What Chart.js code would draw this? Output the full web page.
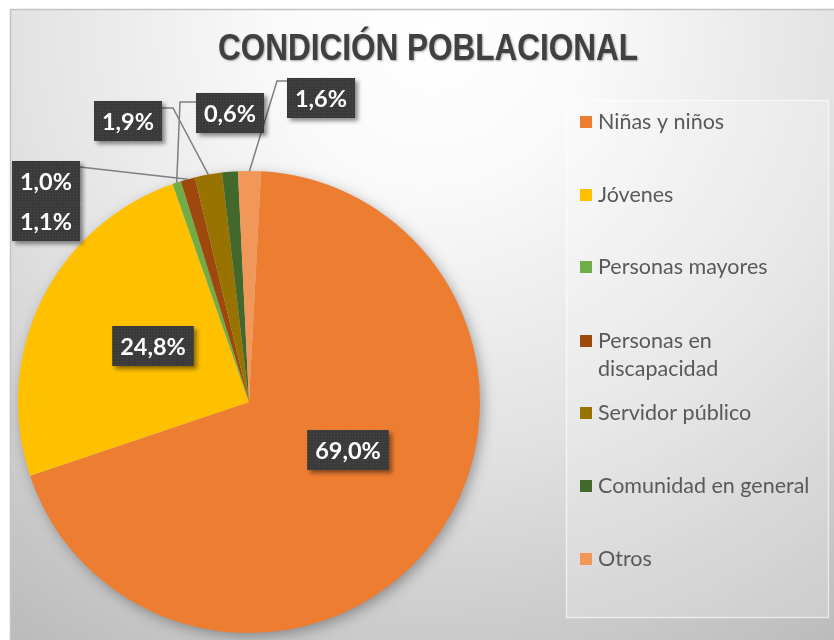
<!DOCTYPE html>
<html><head><meta charset="utf-8">
<script src="https://cdn.jsdelivr.net/npm/chart.js@4"></script>
<style>html,body{margin:0;padding:0;background:#fff;}#wrap{width:834px;height:640px;position:relative;}</style>
</head><body><div id="wrap"><canvas id="c" width="834" height="640"></canvas></div>
<script>
const chartTitle = 'CONDICIÓN POBLACIONAL';
const categories = ['Niñas y niños','Jóvenes','Personas mayores','Personas en discapacidad','Servidor público','Comunidad en general','Otros'];
const legendLines = [['Niñas y niños'],['Jóvenes'],['Personas mayores'],['Personas en','discapacidad'],['Servidor público'],['Comunidad en general'],['Otros']];
const values = [69.0, 24.8, 0.6, 1.0, 1.9, 1.1, 1.6];
const sliceColors = ['#ED7D31','#FFC000','#70AD47','#9E480E','#997300','#43682B','#F1975A'];

// label placement (annotation layout, not data)
const labelLayout = [
  {x:348, y:450, leader:null},
  {x:153, y:346, leader:null},
  {x:230, y:113, leader:[[196,102],[180,102]]},
  {x:46,  y:181, leader:[[80,167]]},
  {x:128, y:121, leader:[[162,108],[173,108]]},
  {x:46,  y:221, leader:null},
  {x:321, y:98,  leader:[[287,81],[277,81]]}
];
const legendItemY = [122,195,267,341,413,486,559];

function fmt(v){ return v.toFixed(1).replace('.', ',') + '%'; }

const bgPlugin = {
  id:'bg',
  beforeDraw(chart){
    const c = chart.ctx;
    c.save();
    c.fillStyle = '#ffffff';
    c.fillRect(0,0,chart.width,chart.height);
    const g = c.createRadialGradient(430,30,0,430,30,760);
    g.addColorStop(0,'#ffffff');
    g.addColorStop(0.2,'#fafafa');
    g.addColorStop(0.55,'#e2e2e2');
    g.addColorStop(1,'#b8b8b8');
    c.fillStyle = g;
    c.fillRect(10,9,824,631);
    c.strokeStyle = '#c4c4c4';
    c.lineWidth = 1.5;
    c.beginPath(); c.moveTo(10.5,640); c.lineTo(10.5,9.5); c.lineTo(834,9.5); c.stroke();
    // title
    c.font = 'bold 36px "Liberation Sans Narrow", "Liberation Sans", Arial, sans-serif';
    c.textAlign = 'center'; c.textBaseline = 'middle';
    const w = c.measureText(chartTitle).width;
    const target = 420;
    c.translate(428, 50);
    c.scale(target / w, 1);
    c.shadowColor = 'rgba(0,0,0,0.35)'; c.shadowBlur = 2; c.shadowOffsetX = 1; c.shadowOffsetY = 1;
    c.fillStyle = '#404040';
    c.fillText(chartTitle, 0, 0);
    c.restore();
    // legend
    c.save();
    c.fillStyle = 'rgba(255,255,255,0.22)';
    c.fillRect(566,100,263,518);
    c.strokeStyle = 'rgba(255,255,255,0.55)';
    c.lineWidth = 1.5;
    c.strokeRect(566.5,100.5,262,517);
    c.font = '21.5px Lato, "Open Sans", sans-serif';
    c.textAlign = 'left'; c.textBaseline = 'middle';
    legendLines.forEach((lines, i) => {
      const y = legendItemY[i];
      c.fillStyle = sliceColors[i];
      c.fillRect(580, y - 6, 12, 12);
      c.fillStyle = '#595959';
      lines.forEach((t, k) => c.fillText(t, 598, y + k * 28));
    });
    c.restore();
  }
};

const pieShadow = {
  id:'pieShadow',
  beforeDatasetsDraw(chart){
    const a = chart.getDatasetMeta(0).data[0];
    if(!a) return;
    const c = chart.ctx;
    c.save();
    c.shadowColor = 'rgba(0,0,0,0.35)';
    c.shadowBlur = 14; c.shadowOffsetX = 3; c.shadowOffsetY = 4;
    c.fillStyle = '#cccccc';
    c.beginPath(); c.arc(a.x, a.y, a.outerRadius - 1, 0, Math.PI*2); c.fill();
    c.restore();
  }
};

function boxPattern(c){
  const p = document.createElement('canvas'); p.width = 3; p.height = 3;
  const g = p.getContext('2d');
  g.fillStyle = '#3a3a3a'; g.fillRect(0,0,3,3);
  g.fillStyle = '#4b4b4b'; g.fillRect(1,1,1,1);
  return c.createPattern(p,'repeat');
}

const labelsPlugin = {
  id:'sliceLabels',
  afterDatasetsDraw(chart){
    const c = chart.ctx;
    const meta = chart.getDatasetMeta(0);
    c.save();
    c.strokeStyle = '#7f7f7f'; c.lineWidth = 1.5;
    meta.data.forEach((arc, i) => {
      const L = labelLayout[i];
      if(!L.leader) return;
      const mid = (arc.startAngle + arc.endAngle) / 2;
      const tx = arc.x + Math.cos(mid) * arc.outerRadius;
      const ty = arc.y + Math.sin(mid) * arc.outerRadius;
      c.beginPath();
      c.moveTo(L.leader[0][0], L.leader[0][1]);
      for(let k=1;k<L.leader.length;k++) c.lineTo(L.leader[k][0], L.leader[k][1]);
      c.lineTo(tx, ty);
      c.stroke();
    });
    const pat = boxPattern(c);
    c.font = 'bold 23.5px Lato, "Open Sans", sans-serif';
    c.textAlign = 'center'; c.textBaseline = 'middle';
    meta.data.forEach((arc, i) => {
      const L = labelLayout[i];
      const txt = fmt(values[i]);
      const w = c.measureText(txt).width + 16;
      const h = 40;
      c.save();
      c.shadowColor = 'rgba(0,0,0,0.45)'; c.shadowBlur = 4; c.shadowOffsetX = 3; c.shadowOffsetY = 3;
      c.fillStyle = pat;
      c.fillRect(L.x - w/2, L.y - h/2, w, h);
      c.restore();
      c.fillStyle = '#ffffff';
      c.fillText(txt, L.x, L.y + 1);
    });
    c.restore();
  }
};

new Chart(document.getElementById('c').getContext('2d'), {
  type:'pie',
  data:{ labels:categories, datasets:[{ data:values, backgroundColor:sliceColors, borderWidth:0 }] },
  options:{
    responsive:false, animation:false, rotation:3,
    layout:{ padding:{ left:18, top:171, right:354, bottom:7 } },
    plugins:{ legend:{display:false}, tooltip:{enabled:false}, title:{display:false} }
  },
  plugins:[bgPlugin, pieShadow, labelsPlugin]
});
</script></body></html>
